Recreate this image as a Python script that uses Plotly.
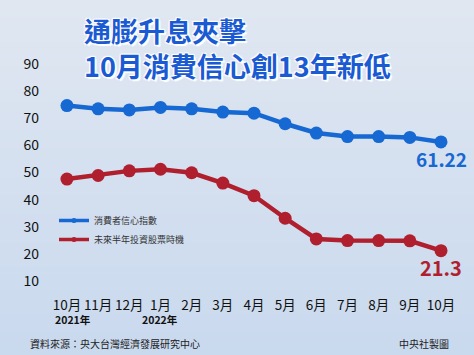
import plotly.graph_objects as go

months = ["10月", "11月", "12月", "1月", "2月", "3月", "4月", "5月", "6月", "7月", "8月", "9月", "10月"]
cci = [74.6, 73.4, 73.0, 73.9, 73.4, 72.2, 71.8, 67.9, 64.5, 63.2, 63.2, 62.9, 61.22]
stock = [47.6, 48.9, 50.6, 51.2, 49.9, 46.1, 41.5, 33.2, 25.6, 25.0, 25.0, 24.9, 21.3]
names = ["消費者信心指數", "未來半年投資股票時機"]
y_ticks = [10, 20, 30, 40, 50, 60, 70, 80, 90]
year_labels = [(0, "2021年"), (3, "2022年")]

BLUE = "#1668d2"
RED = "#b01f2e"
FONT = "Noto Sans CJK TC"
W, H = 474, 355
L, R, T, B = 40, 4, 50, 60
pw, ph = W - L - R, H - T - B

def px(xp):
    return (xp - L) / pw

def py(yp):
    return 1 - (yp - T) / ph

x = list(range(len(months)))
fig = go.Figure()

# gradient background
shapes = []
n = 60
top = (224, 231, 241)
mid = (201, 217, 238)
for i in range(n):
    f = i / (n - 1)
    c = tuple(int(round(top[k] + (mid[k] - top[k]) * f)) for k in range(3))
    shapes.append(dict(type="rect", xref="paper", yref="paper", layer="below",
                       x0=px(-2), x1=px(W + 2),
                       y0=py((i + 1) * H / n + 0.5), y1=py(i * H / n),
                       line=dict(width=0), fillcolor="rgb(%d,%d,%d)" % c))

for vals, col in [(cci, BLUE), (stock, RED)]:
    fig.add_trace(go.Scatter(x=x, y=vals, mode="lines+markers", showlegend=False,
                             line=dict(color=col, width=4.5),
                             marker=dict(color=col, size=13), hoverinfo="skip"))
for col, nm in [(BLUE, names[0]), (RED, names[1])]:
    fig.add_trace(go.Scatter(x=[None], y=[None], mode="lines+markers", name=nm,
                             line=dict(color=col, width=3.5),
                             marker=dict(color=col, size=5)))

ann = []
ann.append(dict(x=x[-1], y=cci[-1], text="<b>61.22</b>", showarrow=False, yshift=-17,
                font=dict(family=FONT, size=19, color=BLUE), xanchor="center", yanchor="middle"))
ann.append(dict(x=x[-1], y=stock[-1], text="<b>21.3</b>", showarrow=False, yshift=-17,
                font=dict(family=FONT, size=20, color=RED), xanchor="center", yanchor="middle"))
for xi, t in year_labels:
    ann.append(dict(x=xi, y=0, yref="paper", text="<b>%s</b>" % t, showarrow=False,
                    yshift=-24, xanchor="center", yanchor="middle",
                    xshift=6 if xi == 0 else 0,
                    font=dict(family=FONT, size=10.5, color="#111")))
title_shadow = "2px 2px 1px #ffffff, -1px -1px 1px #ffffff, 1px -1px 1px #ffffff, -1px 1px 1px #ffffff"
ann.append(dict(x=px(82), y=py(48), xref="paper", yref="paper",
                text="<b>通膨升息夾擊<br>10月消費信心創13年新低</b>", showarrow=False,
                xanchor="left", yanchor="middle", align="left",
                font=dict(family=FONT, size=27, color="#1a5ad2", shadow=title_shadow)))
ann.append(dict(x=px(28), y=py(343), xref="paper", yref="paper",
                text="資料來源：央大台灣經濟發展研究中心", showarrow=False, xanchor="left",
                yanchor="middle", font=dict(family=FONT, size=10, color="#222")))
ann.append(dict(x=px(451), y=py(343), xref="paper", yref="paper",
                text="中央社製圖", showarrow=False, xanchor="right",
                yanchor="middle", font=dict(family=FONT, size=10, color="#222")))

fig.update_layout(
    width=W, height=H, margin=dict(l=L, r=R, t=T, b=B),
    paper_bgcolor="#d4e0f0", plot_bgcolor="rgba(0,0,0,0)",
    shapes=shapes, annotations=ann,
    font=dict(family=FONT, color="#111"),
    legend=dict(x=px(54), y=py(206), xanchor="left", yanchor="top",
                bgcolor="rgba(0,0,0,0)", font=dict(family=FONT, size=9, color="#333"),
                itemwidth=30, tracegroupgap=0),
    xaxis=dict(range=[-0.865, 12.93], tickmode="array", tickvals=x, ticktext=months,
               tickangle=0, showgrid=False, zeroline=False, showline=False, ticks="",
               tickfont=dict(family=FONT, size=13.5, color="#111")),
    yaxis=dict(range=[5, 95], tickmode="array", tickvals=y_ticks, showgrid=False,
               zeroline=False, showline=False, ticks="",
               tickfont=dict(family=FONT, size=14, color="#111")),
)
fig.write_html("out.html")
